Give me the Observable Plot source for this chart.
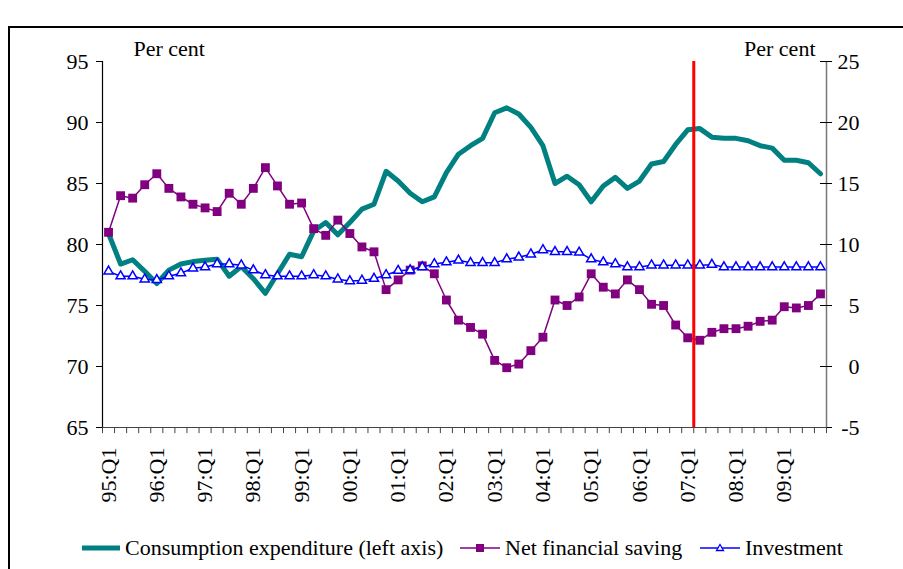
<!DOCTYPE html>
<html>
<head>
<meta charset="utf-8">
<script src="https://cdn.jsdelivr.net/npm/d3@7"></script>
<script src="https://cdn.jsdelivr.net/npm/@observablehq/plot@0.6"></script>
<style>
  html, body { margin: 0; padding: 0; }
  body { width: 903px; height: 569px; overflow: hidden; background: #fff; position: relative;
         font-family: "Liberation Serif", "Times New Roman", serif; }
  #frame { position: absolute; left: 8px; top: 26px; width: 1000px; height: 1000px;
           border: 2px solid #000; box-sizing: border-box; }
  #chart { position: absolute; left: 0; top: 0; }
  #legend { position: absolute; left: 0; top: 528px; width: 903px; height: 40px; font-size: 22px; color: #000;
            font-family: "Liberation Serif", "Times New Roman", serif; }
  .item { position: absolute; top: 0; height: 40px; display: flex; align-items: center; white-space: nowrap; }
  .item svg { margin-right: 5px; }
</style>
</head>
<body>
<div id="frame"></div>
<div id="chart"></div>
<div id="legend"></div>
<script>
// ---- data ----
const years = ["95","96","97","98","99","00","01","02","03","04","05","06","07","08","09"];
const quarterNames = ["Q1","Q2","Q3","Q4"];
const quarters = years.flatMap(y => quarterNames.map(q => `${y}:${q}`));

// Consumption expenditure (left axis, per cent)
const consumption = [80.9, 78.4, 78.75, 77.8, 76.8, 77.9, 78.4, 78.6, 78.7, 78.8,
                     77.4, 78.2, 77.2, 76.0, 77.6, 79.2, 79.0, 81.1, 81.8, 80.8,
                     81.8, 82.9, 83.3, 86.0, 85.2, 84.2, 83.5, 83.9, 85.9, 87.4,
                     88.1, 88.7, 90.8, 91.2, 90.7, 89.6, 88.1, 85.0, 85.6, 84.9,
                     83.5, 84.8, 85.5, 84.6, 85.2, 86.6, 86.8, 88.2, 89.4, 89.5,
                     88.8, 88.7, 88.7, 88.5, 88.1, 87.9, 86.9, 86.9, 86.7, 85.8];
// Net financial saving (right axis, per cent)
const saving = [11.0, 14.0, 13.8, 14.9, 15.8, 14.6, 13.9, 13.3, 13.0, 12.7,
                14.2, 13.3, 14.6, 16.3, 14.8, 13.3, 13.4, 11.3, 10.75, 12.0,
                10.9, 9.8, 9.4, 6.3, 7.1, 7.9, 8.25, 7.6, 5.45, 3.8,
                3.2, 2.65, 0.5, -0.1, 0.2, 1.3, 2.4, 5.45, 5.0, 5.7,
                7.6, 6.5, 5.95, 7.1, 6.3, 5.1, 5.0, 3.4, 2.35, 2.15,
                2.8, 3.1, 3.1, 3.3, 3.7, 3.8, 4.9, 4.8, 5.0, 5.95];
// Investment (right axis, per cent)
const investment = [7.8, 7.4, 7.4, 7.15, 7.1, 7.4, 7.65, 8.05, 8.15, 8.4,
                    8.4, 8.3, 7.9, 7.5, 7.4, 7.4, 7.4, 7.5, 7.4, 7.15,
                    7.0, 7.05, 7.2, 7.5, 7.85, 7.9, 8.15, 8.4, 8.55, 8.7,
                    8.5, 8.5, 8.5, 8.8, 8.95, 9.2, 9.55, 9.4, 9.4, 9.35,
                    8.8, 8.55, 8.4, 8.15, 8.15, 8.3, 8.3, 8.3, 8.3, 8.3,
                    8.35, 8.15, 8.15, 8.15, 8.15, 8.15, 8.15, 8.15, 8.15, 8.15];

const leftTicks = [65, 70, 75, 80, 85, 90, 95];
const rightTicks = [-5, 0, 5, 10, 15, 20, 25];
const markerQuarter = "07:Q1";
const seriesNames = ["Consumption expenditure (left axis)", "Net financial saving", "Investment"];
const seriesColors = ["#008080", "#800080", "#0000FF"];
const axisUnit = "Per cent";

// ---- build ----
const offset = leftTicks[0] - rightTicks[0]; // right axis value + offset = left axis value
const n = quarters.length;
const rows = quarters.map((q, i) => ({i, q, c: consumption[i], s: saving[i] + offset, v: investment[i] + offset}));
const q1Rows = rows.filter(d => d.q.endsWith("Q1"));
const boundaries = d3.range(n + 1).map(i => i - 0.5);
const lastX = n - 0.5;
const font = '"Liberation Serif", "Times New Roman", serif';
const fs = 22;

const chart = Plot.plot({
  width: 903,
  height: 525,
  marginLeft: 102,
  marginRight: 77,
  marginTop: 61,
  marginBottom: 98,
  x: {type: "linear", domain: [-0.5, lastX], axis: null},
  y: {domain: [leftTicks[0], leftTicks[leftTicks.length - 1]], axis: null},
  style: {fontFamily: font, fontSize: fs + "px", color: "#000", background: "transparent", overflow: "visible"},
  marks: [
    // left axis
    Plot.axisY(leftTicks, {anchor: "left", tickSize: 6, tickPadding: 8, fontSize: fs, stroke: "#000", fill: "#000"}),
    Plot.ruleX([-0.5], {stroke: "#000", strokeWidth: 1.2}),
    // right axis
    Plot.ruleX([lastX], {stroke: "#777", strokeWidth: 1.5}),
    Plot.ruleY(rightTicks, {y: d => d + offset, x1: lastX - 0.5, x2: lastX + 0.5, stroke: "#000"}),
    Plot.text(rightTicks, {x: lastX, y: d => d + offset, text: d => String(d), textAnchor: "end", dx: 33, fontSize: fs, fill: "#000"}),
    // x axis
    Plot.ruleY([leftTicks[0]], {stroke: "#444", strokeWidth: 1.2}),
    Plot.ruleX(boundaries, {y1: leftTicks[0], y2: leftTicks[0] - 0.5, stroke: "#444"}),
    Plot.text(q1Rows, {x: "i", y: leftTicks[0], text: "q", rotate: -90, textAnchor: "end", dy: 20, fontSize: fs, fill: "#000"}),
    // series
    Plot.line(rows, {x: "i", y: "c", stroke: seriesColors[0], strokeWidth: 5, strokeLinejoin: "round"}),
    Plot.line(rows, {x: "i", y: "s", stroke: seriesColors[1], strokeWidth: 1.5}),
    Plot.dot(rows, {x: "i", y: "s", symbol: "square", r: 5, fill: seriesColors[1], stroke: null}),
    Plot.line(rows, {x: "i", y: "v", stroke: seriesColors[2], strokeWidth: 1.5}),
    Plot.dot(rows, {x: "i", y: "v", symbol: "triangle", r: 3.4, fill: "#fff", stroke: seriesColors[2], strokeWidth: 1.5}),
    // forecast marker
    Plot.ruleX([quarters.indexOf(markerQuarter) + 0.5], {stroke: "#FF0000", strokeWidth: 3}),
    // unit labels
    Plot.text([axisUnit], {frameAnchor: "top-left", dx: 31, dy: -6, textAnchor: "start", lineAnchor: "bottom", fontSize: fs, fill: "#000"}),
    Plot.text([axisUnit], {frameAnchor: "top-right", dx: -11, dy: -6, textAnchor: "end", lineAnchor: "bottom", fontSize: fs, fill: "#000"})
  ]
});
document.getElementById("chart").appendChild(chart);

// ---- legend ----
const legendLeft = [82, 460, 700];
const legend = document.getElementById("legend");
seriesNames.forEach((name, k) => {
  const item = document.createElement("div");
  item.className = "item";
  item.style.left = legendLeft[k] + "px";
  const w = k === 0 ? 38 : 40;
  let marker = "";
  if (k === 1) marker = `<rect x="${w/2 - 4}" y="6" width="8" height="8" fill="${seriesColors[1]}"/>`;
  if (k === 2) marker = `<path d="M${w/2},6.5 L${w/2 + 3.5},12.5 L${w/2 - 3.5},12.5 Z" fill="#fff" stroke="${seriesColors[2]}" stroke-width="1.3"/>`;
  const sw = k === 0 ? 5 : 1.5;
  item.innerHTML = `<svg width="${w}" height="20"><line x1="0" x2="${w}" y1="10" y2="10" stroke="${seriesColors[k]}" stroke-width="${sw}"/>${marker}</svg><span>${name}</span>`;
  legend.appendChild(item);
});
</script>
</body>
</html>
